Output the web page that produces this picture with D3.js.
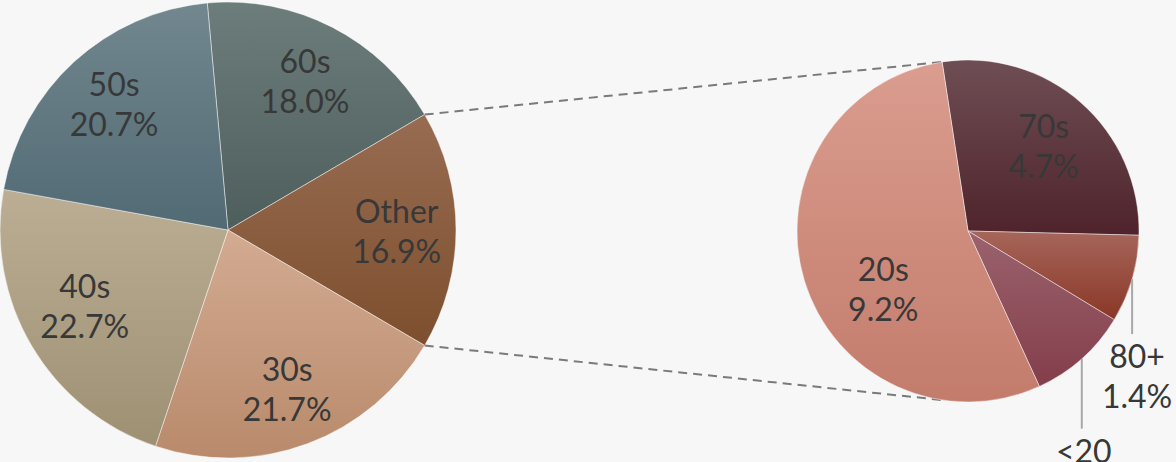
<!DOCTYPE html>
<html>
<head>
<meta charset="utf-8">
<script src="https://cdn.jsdelivr.net/npm/d3@7"></script>
<style>
  html, body { margin: 0; padding: 0; background: #f7f7f7; }
  svg { display: block; }
  text { font-family: Lato, "Open Sans", sans-serif; fill: #383838; }
</style>
</head>
<body>
<svg id="chart" width="1176" height="462"></svg>
<script>
// ---- data ----
const mainCategories = ["60s", "Other", "30s", "40s", "50s"];
const mainValues = [18.0, 16.9, 21.7, 22.7, 20.7];
const mainLabels = ["18.0%", "16.9%", "21.7%", "22.7%", "20.7%"];
const otherCategories = ["70s", "80+", "<20", "20s"];
const otherValues = [4.7, 1.4, 1.6, 9.2];
const otherLabels = ["4.7%", "1.4%", "1.6%", "9.2%"];

// ---- style / layout ----
const mainColors = {
  "60s": ["#6d7d7b", "#4e5e5d"],
  "Other": ["#986c52", "#7d4f2e"],
  "30s": ["#d3ab92", "#b98a6b"],
  "40s": ["#bbae94", "#9d9073"],
  "50s": ["#72878e", "#516a74"]
};
const otherColors = {
  "70s": ["#6e4e54", "#4f232b"],
  "80+": ["#a6665a", "#8a3726"],
  "<20": ["#9a636d", "#843d4b"],
  "20s": ["#da9d8f", "#c37c6c"]
};
const W = 1176, H = 462;
const main = { cx: 228, cy: 230, r: 228, labelR: 0.74 };
const sub = { cx: 968, cy: 231, r: 171, labelR: 0.67, startDeg: -8.7 };
const leaderLen = { "80+": 55, "<20": 70 };
const labelNudge = { "40s": [2, -11], "50s": [0, -3], "20s": [25, 24] };
const outsideNudge = { "80+": 5, "<20": 2 };
const fontSize = 32, lineGap = 40;
const deg = Math.PI / 180;

const svg = d3.select("#chart");
svg.append("rect").attr("width", W).attr("height", H).attr("fill", "#f7f7f7");
const defs = svg.append("defs");

function addGrad(id, c) {
  const g = defs.append("linearGradient").attr("id", id)
    .attr("x1", 0).attr("y1", 0).attr("x2", 0).attr("y2", 1);
  g.append("stop").attr("offset", "0%").attr("stop-color", c[0]);
  g.append("stop").attr("offset", "100%").attr("stop-color", c[1]);
}
mainCategories.forEach((c, i) => addGrad("gm" + i, mainColors[c]));
otherCategories.forEach((c, i) => addGrad("go" + i, otherColors[c]));

// ---- main pie: "Other" centered on the right (90deg) ----
const total = d3.sum(mainValues);
const otherIdx = mainCategories.indexOf("Other");
const before = d3.sum(mainValues.slice(0, otherIdx));
const mainStart = Math.PI / 2 - (before + mainValues[otherIdx] / 2) / total * 2 * Math.PI;

const mainPie = d3.pie().sort(null).value(d => d.v)
  .startAngle(mainStart).endAngle(mainStart + 2 * Math.PI);
const mainData = mainPie(mainCategories.map((c, i) => ({ c, v: mainValues[i], l: mainLabels[i], i })));
const mainArc = d3.arc().innerRadius(0).outerRadius(main.r);
const mainLabelArc = d3.arc().innerRadius(main.r * main.labelR).outerRadius(main.r * main.labelR);

const gMain = svg.append("g").attr("transform", `translate(${main.cx},${main.cy})`);
gMain.selectAll("path").data(mainData).join("path")
  .attr("d", mainArc)
  .attr("fill", d => `url(#gm${d.data.i})`)
  .attr("stroke", "rgba(255,255,255,0.45)").attr("stroke-width", 1);

// ---- sub pie ----
const subPie = d3.pie().sort(null).value(d => d.v)
  .startAngle(sub.startDeg * deg).endAngle(sub.startDeg * deg + 2 * Math.PI);
const subData = subPie(otherCategories.map((c, i) => ({ c, v: otherValues[i], l: otherLabels[i], i })));
const subArc = d3.arc().innerRadius(0).outerRadius(sub.r);
const subLabelArc = d3.arc().innerRadius(sub.r * sub.labelR).outerRadius(sub.r * sub.labelR);

// ---- connector dashed lines ----
const oth = mainData[otherIdx];
function pt(cx, cy, r, a) { return [cx + r * Math.sin(a), cy - r * Math.cos(a)]; }
const p1 = pt(main.cx, main.cy, main.r, oth.startAngle);
const p2 = pt(main.cx, main.cy, main.r, oth.endAngle);
const q1 = pt(sub.cx, sub.cy, sub.r, sub.startDeg * deg);
const q2 = pt(sub.cx, sub.cy, sub.r, Math.PI - sub.startDeg * deg);
svg.append("g").selectAll("line").data([[p1, q1], [p2, q2]]).join("line")
  .attr("x1", d => d[0][0]).attr("y1", d => d[0][1])
  .attr("x2", d => d[1][0]).attr("y2", d => d[1][1])
  .attr("stroke", "#7a7a7a").attr("stroke-width", 2)
  .attr("stroke-dasharray", "9,6");

const gSub = svg.append("g").attr("transform", `translate(${sub.cx},${sub.cy})`);
gSub.selectAll("path").data(subData).join("path")
  .attr("d", subArc)
  .attr("fill", d => `url(#go${d.data.i})`)
  .attr("stroke", "rgba(255,255,255,0.45)").attr("stroke-width", 1);

// ---- labels ----
function twoLine(g, x, y, a, b) {
  const t = g.append("text").attr("text-anchor", "middle")
    .attr("font-size", fontSize).attr("dominant-baseline", "central");
  t.append("tspan").attr("x", x).attr("y", y - lineGap / 2).text(a);
  t.append("tspan").attr("x", x).attr("y", y + lineGap / 2).text(b);
}
function nudge(c) { return labelNudge[c] || [0, 0]; }
mainData.forEach(d => {
  const [x, y] = mainLabelArc.centroid(d);
  const [nx, ny] = nudge(d.data.c);
  twoLine(gMain, x + nx, y + ny, d.data.c, d.data.l);
});
subData.forEach(d => {
  const span = d.endAngle - d.startAngle;
  if (span > 40 * deg) {
    const [x, y] = subLabelArc.centroid(d);
    const [nx, ny] = nudge(d.data.c);
    twoLine(gSub, x + nx, y + ny, d.data.c, d.data.l);
  } else {
    const mid = (d.startAngle + d.endAngle) / 2;
    const [x, y] = pt(0, 0, sub.r, mid);
    const len = leaderLen[d.data.c];
    gSub.append("line").attr("x1", x).attr("y1", y).attr("x2", x).attr("y2", y + len)
      .attr("stroke", "#a8a8a8").attr("stroke-width", 2);
    twoLine(gSub, x + outsideNudge[d.data.c], y + len + 21 + lineGap / 2, d.data.c, d.data.l);
  }
});
</script>
</body>
</html>
